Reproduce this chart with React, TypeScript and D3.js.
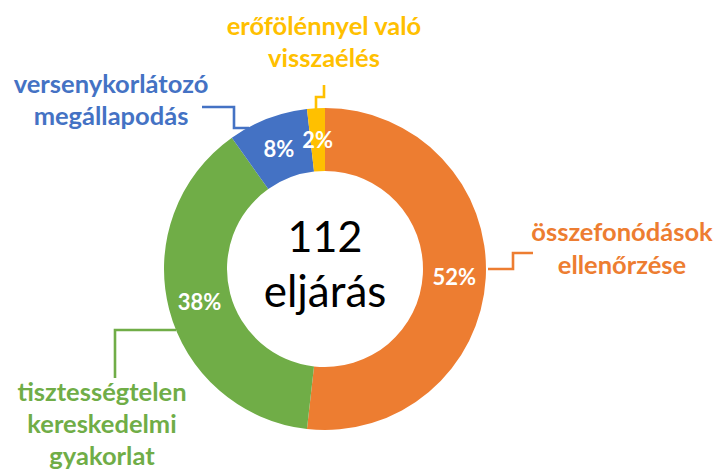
import React from "react";
import * as d3 from "d3";

const categories = [
  "összefonódások ellenőrzése",
  "tisztességtelen kereskedelmi gyakorlat",
  "versenykorlátozó megállapodás",
  "erőfölénnyel való visszaélés",
];
const counts = [58, 43, 9, 2];
const colors = ["#ED7D31", "#70AD47", "#4472C4", "#FFC000"];
const labelLines = [
  ["összefonódások", "ellenőrzése"],
  ["tisztességtelen", "kereskedelmi", "gyakorlat"],
  ["versenykorlátozó", "megállapodás"],
  ["erőfölénnyel való", "visszaélés"],
];
const centerTitle = ["112", "eljárás"];

const W = 716;
const H = 469;
const cx = 325;
const cy = 269;
const R = 161;
const r0 = 98;

// label anchor (center x, first baseline y), line spacing
const labelPos = [
  { x: 622, y: 241, gap: 33 },
  { x: 102, y: 401, gap: 32 },
  { x: 111, y: 93, gap: 32 },
  { x: 324, y: 35, gap: 32 },
];

// leader elbows
const leaderPaths: [number, number][][] = [
  [[488, 269], [513, 269], [513, 253], [533, 253]],
  [[176, 330], [115, 330], [115, 378]],
  [[249, 128], [234, 128], [234, 107], [202, 107]],
  [[316, 109], [316, 97], [324, 97], [324, 85]],
];

export default function App() {
  const total = d3.sum(counts);
  const pie = d3.pie<number>().sort(null).value((d) => d)(counts);
  const arc = d3.arc<d3.PieArcDatum<number>>().innerRadius(r0).outerRadius(R);
  const line = d3.line();
  const font = "Lato, 'Open Sans', sans-serif";
  return (
    <svg
      width={W}
      height={H}
      style={{ position: "absolute", left: 0, top: 0, background: "#fff" }}
      fontFamily={font}
    >
      <g transform={`translate(${cx},${cy})`}>
        {pie.map((p, i) => (
          <path key={i} d={arc(p) || ""} fill={colors[i]} />
        ))}
        {pie.map((p, i) => {
          const [x, y] = arc.centroid(p);
          return (
            <text
              key={"p" + i}
              x={x}
              y={y}
              textAnchor="middle"
              dominantBaseline="central"
              fill="#fff"
              fontWeight="bold"
              fontSize={22}
            >
              {d3.format(".0%")(counts[i] / total)}
            </text>
          );
        })}
        <text x={0} y={252 - cy} textAnchor="middle" fontSize={43} fill="#000">
          {centerTitle[0]}
        </text>
        <text x={0} y={307 - cy} textAnchor="middle" fontSize={44} fill="#000">
          {centerTitle[1]}
        </text>
      </g>
      {leaderPaths.map((pts, i) => (
        <path
          key={"l" + i}
          d={line(pts) || ""}
          fill="none"
          stroke={colors[i]}
          strokeWidth={2.6}
        />
      ))}
      {labelLines.map((lines, i) => (
        <text
          key={"t" + i}
          textAnchor="middle"
          fill={colors[i]}
          fontWeight="bold"
          fontSize={25.5}
        >
          {lines.map((s, j) => (
            <tspan
              key={j}
              x={labelPos[i].x}
              y={labelPos[i].y + j * labelPos[i].gap}
            >
              {s}
            </tspan>
          ))}
        </text>
      ))}
    </svg>
  );
}
